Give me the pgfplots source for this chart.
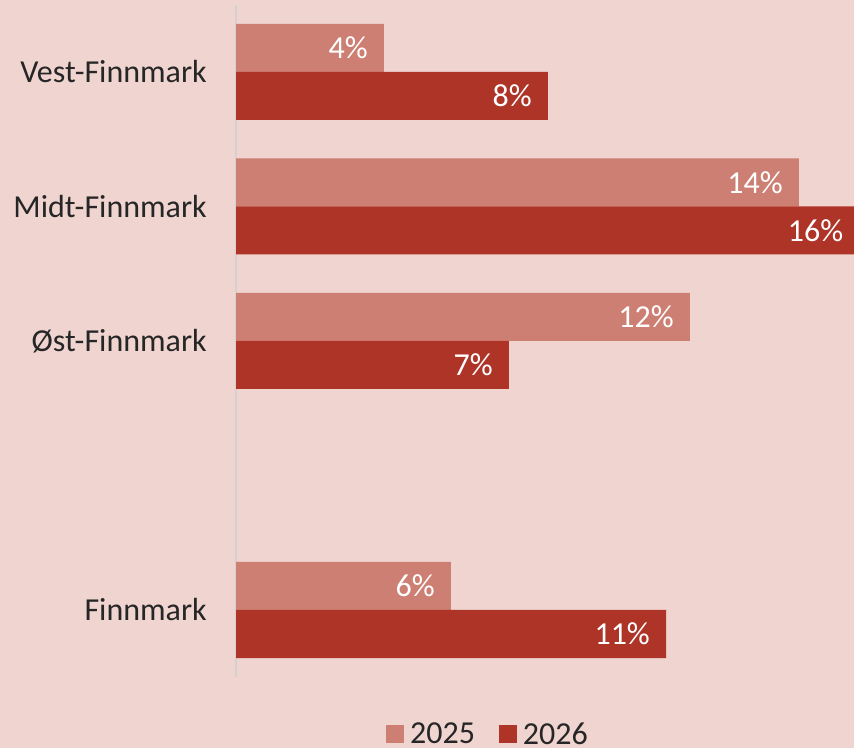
\documentclass[border=0pt]{standalone}
\usepackage{pgfplots}
\pgfplotsset{compat=1.18}
\usepackage{fontspec}
\setmainfont{Carlito}
\definecolor{bg}{RGB}{239,212,207}
\definecolor{cA}{RGB}{205,127,115}
\definecolor{cB}{RGB}{174,52,40}
\definecolor{txt}{RGB}{38,38,38}
\definecolor{axl}{RGB}{214,208,207}
\newcommand{\chfont}{\fontsize{32bp}{38bp}\selectfont}
\begin{document}
\begin{tikzpicture}
\fill[bg] (0,0) rectangle (854bp,748bp);
\path[use as bounding box] (0,0) rectangle (854bp,748bp);
\begin{axis}[
  at={(236bp,70.75bp)}, anchor=south west,
  scale only axis, width=623.7bp, height=672.5bp,
  xbar, bar width=48bp,
  xmin=0, xmax=16.2, ymin=-1.5, ymax=3.5,
  axis x line=none, axis y line*=left,
  y axis line style={draw=axl, line width=1.5bp},
  ytick={-1,1,2,3},
  yticklabels={Finnmark,Øst-Finnmark,Midt-Finnmark,Vest-Finnmark},
  major tick length=0pt, ytick style={draw=none},
  yticklabel style={font=\chfont, text=txt, inner sep=0pt, anchor=east, xshift=-29bp},
  axis background/.style={fill=none},
  point meta=explicit symbolic,
  nodes near coords,
  nodes near coords style={font=\chfont, text=white, anchor=east, inner sep=0pt, xshift=-16bp},
  legend columns=2,
  legend style={at={(0.404,-0.0844)}, anchor=center, draw=none, fill=none,
    font=\chfont, text=txt, inner sep=0pt,
    /tikz/every even column/.append style={column sep=22bp}},
  legend image code/.code={\fill[#1] (0bp,-9bp) rectangle (18bp,9bp); \path (22bp,0bp);},
]
\addplot[fill=cA, draw=none, bar shift=24bp] coordinates {
  (3.84,3) [4\%]
  (14.62,2) [14\%]
  (11.79,1) [12\%]
  (5.58,-1) [6\%]
};
\addplot[fill=cB, draw=none, bar shift=-24bp] coordinates {
  (8.10,3) [8\%]
  (16.19,2) [16\%]
  (7.09,1) [7\%]
  (11.17,-1) [11\%]
};
\legend{2025,2026}
\end{axis}
\end{tikzpicture}
\end{document}
